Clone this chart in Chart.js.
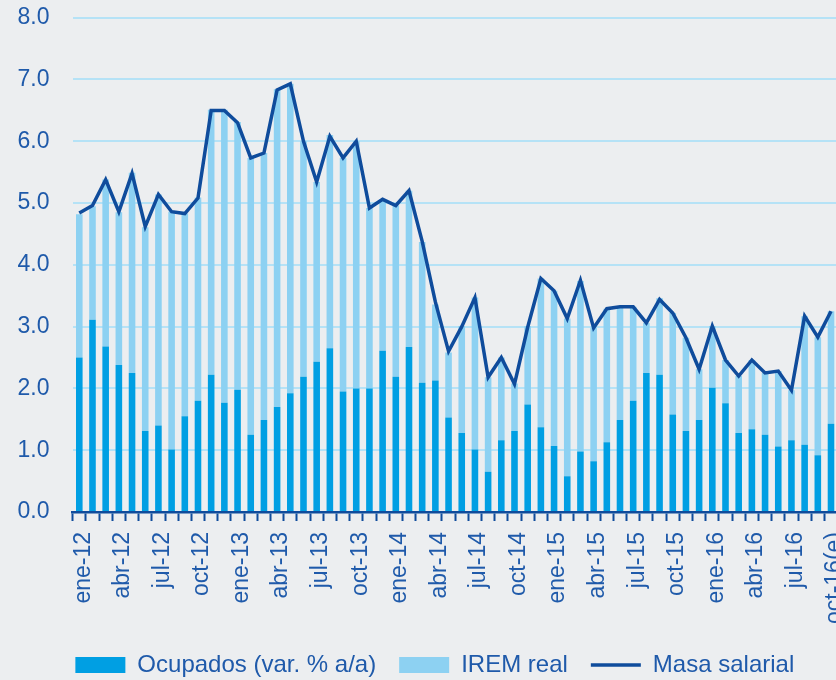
<!DOCTYPE html>
<html>
<head>
<meta charset="utf-8">
<script src="https://cdn.jsdelivr.net/npm/chart.js@4/dist/chart.umd.min.js"></script>
<style>
  html, body { margin: 0; padding: 0; background: #eceef0; overflow: hidden; }
  #wrap { width: 846px; height: 680px; }
</style>
</head>
<body>
<div id="wrap"><canvas id="chart" width="846" height="680"></canvas></div>
<script>
// --- datos ---
const categories = [
  'ene-12', 'feb-12', 'mar-12', 'abr-12', 'may-12', 'jun-12', 'jul-12', 'ago-12', 'sep-12', 'oct-12', 'nov-12', 'dic-12',
  'ene-13', 'feb-13', 'mar-13', 'abr-13', 'may-13', 'jun-13', 'jul-13', 'ago-13', 'sep-13', 'oct-13', 'nov-13', 'dic-13',
  'ene-14', 'feb-14', 'mar-14', 'abr-14', 'may-14', 'jun-14', 'jul-14', 'ago-14', 'sep-14', 'oct-14', 'nov-14', 'dic-14',
  'ene-15', 'feb-15', 'mar-15', 'abr-15', 'may-15', 'jun-15', 'jul-15', 'ago-15', 'sep-15', 'oct-15', 'nov-15', 'dic-15',
  'ene-16', 'feb-16', 'mar-16', 'abr-16', 'may-16', 'jun-16', 'jul-16', 'ago-16', 'sep-16', 'oct-16(e)'
];

// etiquetas visibles del eje X (una de cada tres)
const xTickLabels = [
  'ene-12', 'abr-12', 'jul-12', 'oct-12', 'ene-13', 'abr-13', 'jul-13', 'oct-13', 'ene-14', 'abr-14',
  'jul-14', 'oct-14', 'ene-15', 'abr-15', 'jul-15', 'oct-15', 'ene-16', 'abr-16', 'jul-16', 'oct-16(e)'
];

const yTicks = [0, 1, 2, 3, 4, 5, 6, 7, 8];

const ocupados = [
  2.50, 3.11, 2.68, 2.38, 2.25, 1.31, 1.40, 1.01, 1.55, 1.80, 2.22, 1.77,
  1.98, 1.25, 1.49, 1.70, 1.92, 2.19, 2.43, 2.65, 1.95, 2.00, 2.00, 2.61,
  2.19, 2.67, 2.09, 2.13, 1.53, 1.28, 1.01, 0.65, 1.16, 1.31, 1.74, 1.37,
  1.07, 0.58, 0.98, 0.82, 1.13, 1.49, 1.80, 2.25, 2.22, 1.58, 1.31, 1.49,
  2.01, 1.76, 1.28, 1.34, 1.25, 1.06, 1.16, 1.09, 0.92, 1.43
];

const iremReal = [
  2.32, 1.84, 2.70, 2.47, 3.24, 3.30, 3.74, 3.85, 3.28, 3.29, 4.29, 4.74,
  4.33, 4.48, 4.32, 5.14, 5.01, 3.81, 2.91, 3.45, 3.78, 4.00, 2.92, 2.45,
  2.77, 2.53, 2.28, 1.23, 1.05, 1.73, 2.46, 1.53, 1.34, 0.77, 1.27, 2.41,
  2.51, 2.55, 2.76, 2.16, 2.16, 1.82, 1.52, 0.81, 1.24, 1.64, 1.51, 0.82,
  1.00, 0.70, 0.92, 1.12, 1.00, 1.22, 0.81, 2.08, 1.91, 1.82
];

const masaSalarial = [
  4.84, 4.96, 5.38, 4.86, 5.48, 4.62, 5.14, 4.86, 4.83, 5.08, 6.50, 6.50,
  6.30, 5.73, 5.81, 6.83, 6.93, 6.00, 5.34, 6.08, 5.73, 6.00, 4.92, 5.06,
  4.96, 5.20, 4.38, 3.40, 2.60, 3.00, 3.47, 2.18, 2.50, 2.07, 2.99, 3.78,
  3.58, 3.13, 3.75, 2.98, 3.29, 3.32, 3.32, 3.06, 3.44, 3.22, 2.82, 2.31,
  3.01, 2.46, 2.20, 2.46, 2.25, 2.28, 1.97, 3.17, 2.83, 3.25
];

// --- estilos ---
const TEXT_BLUE = '#1f5aaa';
const DARK_BLUE = '#0f4c9c';
const FONT = "'Liberation Sans', Arial, sans-serif";

const ctx = document.getElementById('chart').getContext('2d');

// ancho de la etiqueta mas ancha del eje Y (para alinearlas a la derecha fuera del eje)
ctx.font = `23px ${FONT}`;
const yLabelWidth = ctx.measureText('8.0').width;

const chart = new Chart(ctx, {
    data: {
        labels: categories,
        datasets: [
            {
                type: 'bar',
                label: 'Ocupados (var. % a/a)',
                data: ocupados,
                backgroundColor: '#009fe3',
                stack: 'barras',
                order: 1,
                barPercentage: 0.5,
                categoryPercentage: 1
            },
            {
                type: 'bar',
                label: 'IREM real',
                data: iremReal,
                backgroundColor: '#8dd1f2',
                stack: 'barras',
                order: 1,
                barPercentage: 0.5,
                categoryPercentage: 1
            },
            {
                type: 'line',
                label: 'Masa salarial',
                data: masaSalarial,
                borderColor: DARK_BLUE,
                backgroundColor: DARK_BLUE,
                borderWidth: 3.5,
                pointRadius: 0,
                tension: 0,
                stack: 'linea',
                order: 0
            }
        ]
    },
    options: {
        responsive: false,
        animation: false,
        layout: { padding: { top: 17.7, left: 32, right: 8.4, bottom: -7 } },
        plugins: {
            tooltip: { enabled: false },
            legend: {
                position: 'bottom',
                labels: {
                    color: TEXT_BLUE,
                    font: { family: FONT, size: 24 },
                    padding: 23,
                    usePointStyle: true,
                    pointStyleWidth: 50,
                    boxHeight: 16,
                    sort: (a, b) => a.datasetIndex - b.datasetIndex,
                    generateLabels: (c) => {
                        const items = Chart.defaults.plugins.legend.labels.generateLabels(c);
                        return items.map(it => {
                            const ds = c.data.datasets[it.datasetIndex];
                            it.pointStyle = ds.type === 'line' ? 'line' : 'rect';
                            it.lineWidth = ds.type === 'line' ? 3.5 : 0;
                            return it;
                        });
                    }
                }
            }
        },
        scales: {
            x: {
                stacked: true,
                grid: {
                    offset: true,
                    drawOnChartArea: false,
                    drawTicks: true,
                    tickLength: 9,
                    tickWidth: 2,
                    tickColor: DARK_BLUE
                },
                border: { display: true, color: DARK_BLUE, width: 2.5 },
                ticks: {
                    autoSkip: false,
                    maxRotation: 90,
                    minRotation: 90,
                    padding: 11,
                    labelOffset: 4,
                    color: TEXT_BLUE,
                    font: { family: FONT, size: 23 },
                    callback: function (value) {
                        const lbl = this.getLabelForValue(value);
                        return xTickLabels.includes(lbl) ? lbl : '';
                    }
                },
                afterFit: (scale) => {
                    scale.height = 118;
                    scale.paddingLeft = 0;
                    scale.paddingRight = 0;
                }
            },
            y: {
                stacked: true,
                min: yTicks[0],
                max: yTicks[yTicks.length - 1],
                afterBuildTicks: (scale) => { scale.ticks = yTicks.map(v => ({ value: v })); },
                grid: { color: '#b5e2f6', lineWidth: 2, drawTicks: false },
                border: { display: false },
                ticks: {
                    mirror: true,
                    crossAlign: 'far',
                    padding: -(23.2 + yLabelWidth),
                    color: TEXT_BLUE,
                    font: { family: FONT, size: 23 },
                    callback: (v) => Number(v).toFixed(1)
                },
                afterFit: (scale) => {
                    scale.width = 40.7;
                    scale.paddingTop = 0;
                    scale.paddingBottom = 0;
                }
            }
        }
    }
});
</script>
</body>
</html>
